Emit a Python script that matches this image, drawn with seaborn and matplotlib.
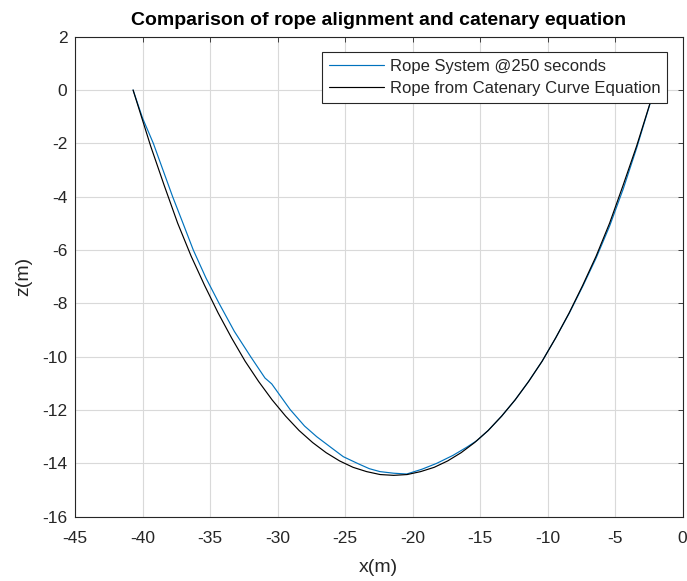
import matplotlib
matplotlib.use("Agg")
import matplotlib.pyplot as plt
import seaborn as sns
import pandas as pd

# Rope System @250 seconds (blue)
rope_x = [-40.7, -40.0, -39.2, -38.5, -37.77, -37.0, -36.24, -35.3, -34.33, -33.2,
          -31.99, -30.93, -30.43, -29.07, -28.0, -27.1, -26.0, -25.13, -24.0, -23.2,
          -22.41, -21.4, -20.43, -19.3, -18.21, -17.0, -16.0, -15.24, -14.4, -13.4,
          -12.4, -11.4, -10.4, -9.4, -8.4, -7.4, -6.4, -5.4, -4.4, -3.4, -2.1]
rope_z = [0.0, -1.05, -2.0, -2.98, -4.0, -5.0, -6.0, -7.05, -8.0, -9.05,
          -10.0, -10.8, -11.02, -11.98, -12.6, -13.0, -13.42, -13.75, -14.02, -14.2,
          -14.31, -14.37, -14.4, -14.22, -14.0, -13.7, -13.4, -13.15, -12.77, -12.23,
          -11.62, -10.93, -10.17, -9.30, -8.38, -7.37, -6.3, -5.1, -3.72, -2.18, 0.0]

# Rope from Catenary Curve Equation (black)
cat_x = [-40.7, -39.4, -38.4, -37.4, -36.4, -35.4, -34.4, -33.4, -32.4, -31.4,
         -30.4, -29.4, -28.4, -27.4, -26.4, -25.4, -24.4, -23.4, -22.4, -21.4,
         -20.4, -19.4, -18.4, -17.4, -16.4, -15.4, -14.4, -13.4, -12.4, -11.4,
         -10.4, -9.4, -8.4, -7.4, -6.4, -5.4, -4.4, -3.4, -2.1]
cat_z = [0.0, -2.10, -3.57, -4.99, -6.23, -7.33, -8.36, -9.30, -10.17, -10.93,
         -11.62, -12.23, -12.77, -13.22, -13.60, -13.91, -14.15, -14.31, -14.42, -14.45,
         -14.42, -14.31, -14.15, -13.91, -13.60, -13.22, -12.77, -12.23, -11.62, -10.93,
         -10.17, -9.30, -8.36, -7.33, -6.23, -4.99, -3.57, -2.10, 0.0]

x_ticks = [-45, -40, -35, -30, -25, -20, -15, -10, -5, 0]
z_ticks = [-16, -14, -12, -10, -8, -6, -4, -2, 0, 2]

sns.set_theme(style="whitegrid")
plt.rcParams['font.family'] = ['Liberation Sans', 'DejaVu Sans']

fig = plt.figure(figsize=(6.87, 5.81), dpi=100)
ax = fig.add_axes([0.1092, 0.1107, 0.8843, 0.8262])

df_rope = pd.DataFrame({"x": rope_x, "z": rope_z})
df_cat = pd.DataFrame({"x": cat_x, "z": cat_z})
sns.lineplot(data=df_rope, x="x", y="z", sort=False, estimator=None, ax=ax,
             color="#0072BD", linewidth=0.85, label="Rope System @250 seconds")
sns.lineplot(data=df_cat, x="x", y="z", sort=False, estimator=None, ax=ax,
             color="black", linewidth=0.85, label="Rope from Catenary Curve Equation")

ax.set_xlim(-45, 0)
ax.set_ylim(-16, 2)
ax.set_xticks(x_ticks)
ax.set_yticks(z_ticks)
ax.set_xticklabels([str(t) for t in x_ticks])
ax.set_yticklabels([str(t) for t in z_ticks])
ax.grid(True, color="#d9d9d9", linewidth=0.8)
ax.set_facecolor("white")
for s in ax.spines.values():
    s.set_color("#262626")
    s.set_linewidth(0.8)
ax.tick_params(axis="both", direction="in", length=3.5, width=0.6, colors="#262626",
               labelsize=12.5, labelcolor="#262626", top=True, right=True)
ax.tick_params(axis="x", pad=10)
ax.tick_params(axis="y", pad=5.5)

ax.set_xlabel("x(m)", fontsize=14, color="#262626", labelpad=9.5)
ax.set_ylabel("z(m)", fontsize=14, color="#262626", labelpad=7.5)
ax.set_title("Comparison of rope alignment and catenary equation",
             fontsize=14, fontweight="bold", color="black", pad=8.5)

leg = ax.legend(loc="upper right", bbox_to_anchor=(0.9745, 0.968), fontsize=12,
                frameon=True, fancybox=False, framealpha=1, edgecolor="#262626",
                borderpad=0.4, labelspacing=0.45, handlelength=3.3, handletextpad=0.36,
                borderaxespad=0)
leg.get_frame().set_linewidth(0.8)

fig.savefig("out.png", dpi=100, facecolor="white")
